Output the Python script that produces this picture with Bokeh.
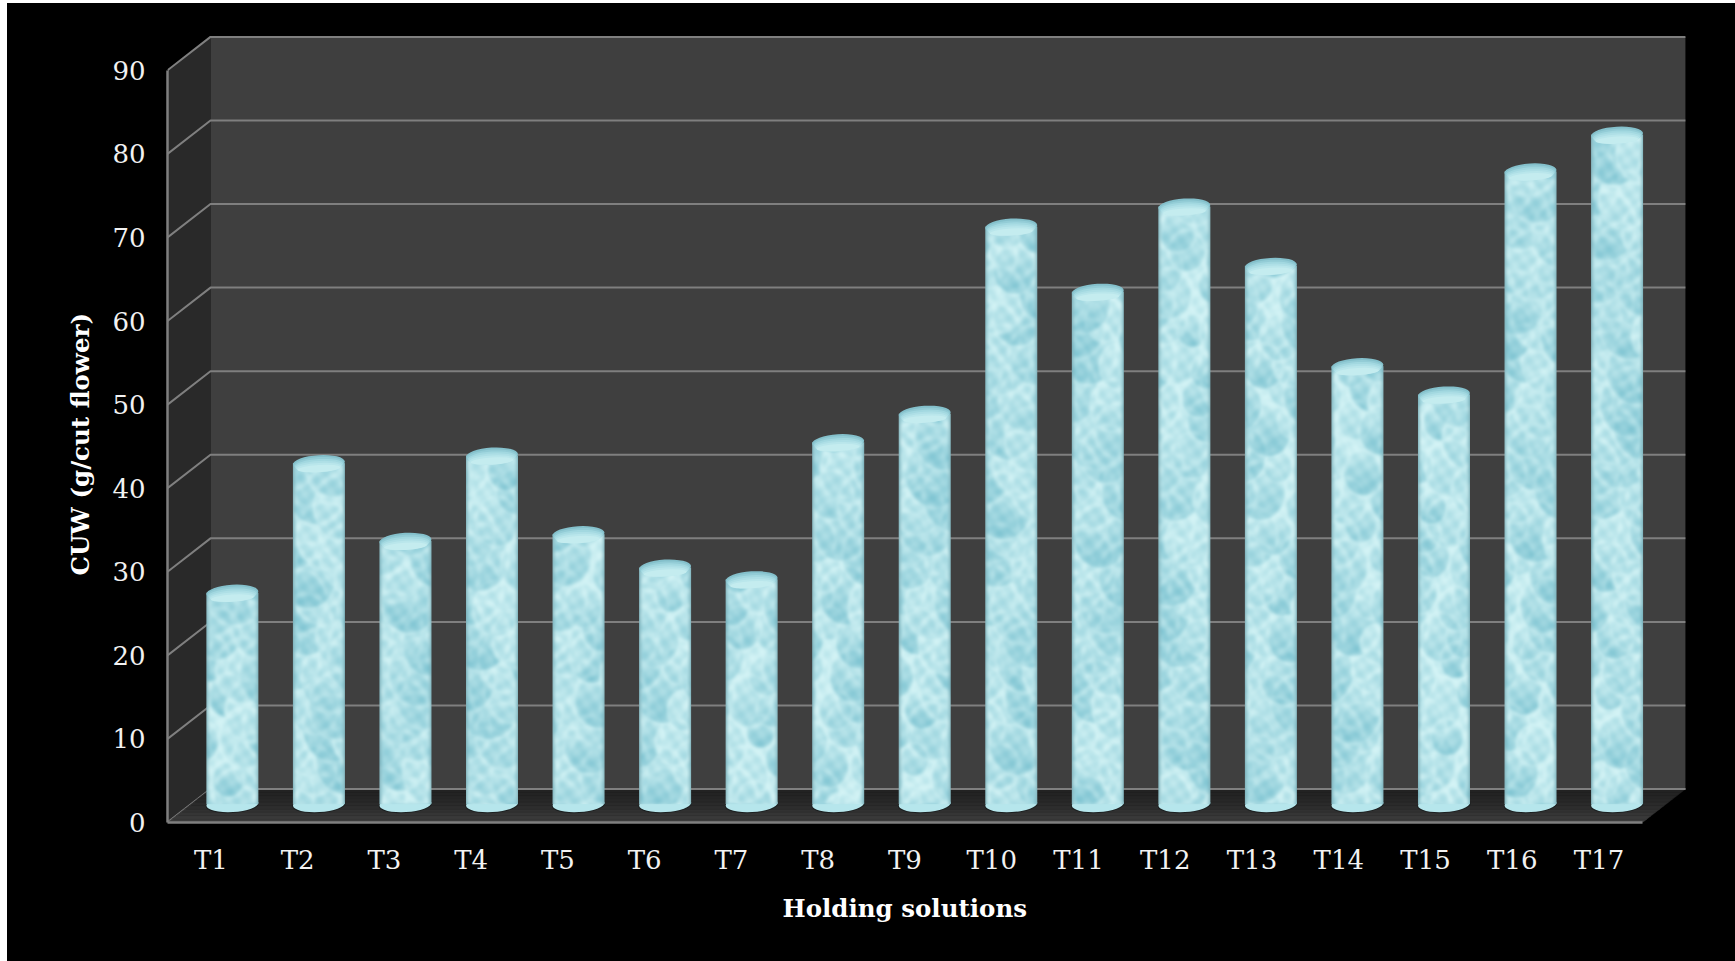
import numpy as np
from bokeh.embed import file_html
from bokeh.models import ColumnDataSource, FixedTicker, Range1d, Title
from bokeh.plotting import figure
from bokeh.resources import INLINE

categories = ["T1", "T2", "T3", "T4", "T5", "T6", "T7", "T8", "T9", "T10", "T11", "T12", "T13", "T14", "T15", "T16", "T17"]
cuw = [25.3, 40.8, 31.5, 41.7, 32.3, 28.3, 26.9, 43.3, 46.7, 69.1, 61.3, 71.5, 64.4, 52.4, 49.0, 75.7, 80.1]
y_ticks = [0, 10, 20, 30, 40, 50, 60, 70, 80, 90]
x_title = "Holding solutions"
y_title = "CUW (g/cut flower)"

FONT = "DejaVu Serif"
W, H = 1728, 958
LEFT, BOTTOM = 160, 139
PX_PER_BAND = 86.76
PX_PER_UNIT = 8.358
DEPTH_X = 43 / PX_PER_BAND
DEPTH_Y = 33.4 / PX_PER_UNIT
BAR_W = 52 / PX_PER_BAND
BAR_STEP = 0.9975
ELL_H = 16 / PX_PER_UNIT
TILT = 0.06
y_top = y_ticks[-1]
n = len(categories)
x0, x1 = -0.5, n - 0.5

p = figure(width=W, height=H, output_backend="svg", toolbar_location=None,
           x_range=Range1d(x0, x0 + (W - LEFT) / PX_PER_BAND),
           y_range=Range1d(0, (H - BOTTOM) / PX_PER_UNIT),
           background_fill_color="black", border_fill_color="black",
           min_border_left=LEFT, min_border_bottom=BOTTOM, min_border_top=0, min_border_right=0)
p.margin = (3, 0, 0, 7)
p.styles = {"background-color": "black"}
p.outline_line_color = None
p.grid.visible = False

# walls
p.patch([x0, x0 + DEPTH_X, x0 + DEPTH_X, x0], [0, DEPTH_Y, y_top + DEPTH_Y, y_top], fill_color="#292929", line_color=None)
p.quad(left=[x0 + DEPTH_X], right=[x1 + DEPTH_X], bottom=[DEPTH_Y], top=[y_top + DEPTH_Y], fill_color="#3f3f3f", line_color=None)

# gridlines
for t in y_ticks:
    p.line([x0, x0 + DEPTH_X, x1 + DEPTH_X], [t, t + DEPTH_Y, t + DEPTH_Y], line_color="#7f7f7f", line_width=2)

# floor, darker towards the back
shades = ["#222222", "#232323", "#252525", "#272727", "#2a2a2a", "#2d2d2d", "#313131", "#353535", "#393939", "#3c3c3c"]
for k, c in enumerate(shades):
    a = 1 - (k + 1) / len(shades)
    b = 1 - k / len(shades)
    p.patch([x0 + a * DEPTH_X, x1 + a * DEPTH_X, x1 + b * DEPTH_X, x0 + b * DEPTH_X],
            [a * DEPTH_Y, a * DEPTH_Y, b * DEPTH_Y, b * DEPTH_Y], fill_color=c, line_color=c, line_width=0.5)
p.line([x0 + DEPTH_X, x1 + DEPTH_X], [DEPTH_Y, DEPTH_Y], line_color="#7f7f7f", line_width=2)


def texture(index, h, w=52):
    yy, xx = np.mgrid[0:h, 0:w].astype(float)
    dark = np.zeros((h, w))
    glow = np.zeros((h, w))
    for row in range(h // 34 + 2):
        for col in range(-1, 3):
            ph = index * 2.399 + row * 1.618 + col * 0.73
            cy = row * 34 + 10 * np.sin(ph * 3.1)
            cx = col * 34 + (row % 2) * 17 + 6 * np.sin(ph * 5.3)
            r = 14 + 16 * abs(np.sin(ph * 7.7))
            d = np.sqrt(((xx - cx) / r) ** 2 + ((yy - cy) / (r * 1.15)) ** 2)
            slope = 0.6 - 0.45 * (yy - cy) / r
            dome = (d < 1) * np.clip(slope, 0, 1) * (0.4 + 0.6 * np.sin(ph * 2.1 + 1) ** 2)
            dark = np.where(d < 1, dome, dark)
            glow = np.maximum(glow, np.exp(-(((d - 1.0) / 0.08) ** 2)))
    streak = 0.09 * np.sin(xx * 0.45 + yy * 0.3 + index) + 0.08 * np.sin(xx * 0.3 - yy * 0.45 + 2 * index)
    v = np.clip(dark * 0.72 + streak - 0.25 * glow + 0.14, 0, 1)
    for _ in range(6):
        v = (v + np.roll(v, 1, 0) + np.roll(v, -1, 0) + np.roll(v, 1, 1) + np.roll(v, -1, 1)) / 5
    v = v[..., None]
    light = np.array([212, 244, 246.0])
    deep = np.array([126, 196, 210.0])
    rgb = light * (1 - v) + deep * v
    u = np.abs((xx + 0.5) / w * 2 - 1)
    edge = (np.clip((u - 0.8) / 0.2, 0, 1) ** 2)[..., None] * 0.65
    rgb = rgb * (1 - edge) + np.array([104, 156, 166.0]) * edge
    rgba = np.dstack([rgb, np.full((h, w), 255.0)]).astype(np.uint8)
    out = np.zeros((h, w), dtype=np.uint32)
    out.flat = np.frombuffer(rgba.tobytes(), dtype=np.uint32)
    return out


base = DEPTH_Y / 2 + 0.2
xc = [i * BAR_STEP + DEPTH_X / 2 for i in range(n)]
tops = [base + v for v in cuw]

# shadows and bottom rims
p.ellipse(x=xc, y=[base - 0.08] * n, width=BAR_W * 1.03, height=ELL_H * 1.03, angle=TILT, fill_color="#1c2021", line_color=None)
p.ellipse(x=xc, y=[base] * n, width=BAR_W, height=ELL_H, angle=TILT, fill_color="#b6e6ec", line_color=None)

src = ColumnDataSource(dict(
    image=[texture(i, max(2, int(round(v * PX_PER_UNIT)))) for i, v in enumerate(cuw)],
    x=[c - BAR_W / 2 for c in xc], y=[base] * n, dw=[BAR_W] * n, dh=cuw))
p.image_rgba(image="image", x="x", y="y", dw="dw", dh="dh", source=src)

# caps
cap_colors = ["#84c0cb", "#93ccd6", "#a2d8e0", "#aedfe6", "#b9e6eb", "#c4ecef"]
for k, c in enumerate(cap_colors):
    f = 1 - k * 0.11
    p.ellipse(x=xc, y=[t - k * 0.13 for t in tops], width=BAR_W * (1 - k * 0.035), height=ELL_H * f,
              angle=TILT, fill_color=c, line_color=None)

# axes
xa = p.xaxis[0]
xa.ticker = FixedTicker(ticks=list(range(n)))
xa.major_label_overrides = {i: c for i, c in enumerate(categories)}
xa.bounds = (x0, x1)
ya = p.yaxis[0]
ya.ticker = FixedTicker(ticks=y_ticks)
ya.bounds = (0, y_top)
for ax in (xa, ya):
    ax.axis_line_color = "#7f7f7f"
    ax.axis_line_width = 2.5
    ax.major_tick_line_color = None
    ax.minor_tick_line_color = None
    ax.major_label_text_color = "#f2f2f2"
    ax.major_label_text_font = FONT
    ax.major_label_text_font_size = "26px"
xa.major_label_standoff = 16
ya.major_label_standoff = 16
ya.major_label_orientation = "horizontal"

p.add_layout(Title(text=x_title, align="left", offset=615, standoff=29, text_color="white", text_font=FONT,
                   text_font_style="bold", text_font_size="24.5px"), "below")
p.add_layout(Title(text=y_title, align="left", offset=247, standoff=30, text_color="white", text_font=FONT,
                   text_font_style="bold", text_font_size="24.5px"), "left")

open("out.html", "w").write(file_html(p, INLINE))
